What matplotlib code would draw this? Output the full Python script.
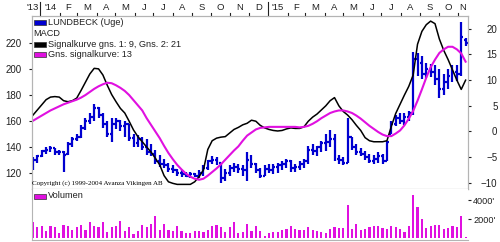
import numpy as np
import pandas as pd
import matplotlib
matplotlib.use('Agg')
import matplotlib.pyplot as plt
from matplotlib import transforms
from matplotlib.patches import Rectangle

# weekly data, first week ending 2013-12-20
start = pd.Timestamp('2013-12-20')
n_weeks = 100

price_open = [124, 130, 133, 137, 138, 139, 136, 136, 135, 142,
              146, 148, 155, 160, 163, 170, 165, 158, 150, 158,
              160, 156, 158, 147, 143, 146, 140, 136, 135, 129,
              127, 126, 123, 122, 120, 119, 118, 119, 118, 120,
              124, 129, 130, 128, 116, 120, 124, 125, 123, 122,
              130, 127, 122, 118, 123, 122, 125, 126, 127, 129,
              124, 125, 127, 129, 138, 137, 140, 143, 144, 146,
              131, 130, 128, 148, 140, 136, 135, 132, 129, 131,
              133, 129, 150, 158, 162, 160, 163, 166, 208, 205,
              196, 200, 198, 192, 185, 190, 195, 198, 196, 222]
price_high = [132, 134, 138, 140, 141, 139, 138, 137, 144, 148,
              150, 157, 162, 166, 173, 171, 166, 160, 162, 162,
              161, 160, 158, 150, 149, 148, 146, 142, 138, 134,
              131, 128, 126, 123, 122, 121, 121, 120, 122, 126,
              130, 133, 132, 128, 123, 126, 128, 127, 126, 136,
              134, 128, 124, 126, 127, 127, 128, 129, 131, 130,
              127, 129, 131, 141, 142, 141, 145, 150, 153, 150,
              134, 132, 162, 148, 142, 139, 137, 135, 134, 136,
              135, 145, 160, 165, 166, 166, 168, 213, 212, 210,
              205, 204, 203, 200, 196, 200, 203, 203, 236, 224]
price_low = [122, 128, 132, 135, 136, 134, 134, 121, 134, 140,
             145, 147, 153, 158, 160, 162, 155, 148, 144, 154,
             152, 148, 145, 140, 140, 138, 134, 133, 127, 125,
             124, 121, 120, 118, 117, 117, 116, 117, 116, 118,
             122, 127, 126, 112, 114, 118, 121, 120, 118, 114,
             124, 120, 116, 118, 120, 119, 120, 122, 124, 121,
             121, 122, 124, 127, 134, 133, 136, 137, 140, 129,
             127, 126, 128, 138, 134, 133, 130, 128, 127, 128,
             127, 129, 150, 156, 158, 157, 160, 165, 195, 192,
             193, 194, 188, 178, 180, 185, 190, 191, 195, 218]
price_close = [130, 133, 137, 138, 139, 136, 136, 134, 142, 146,
               148, 155, 160, 163, 170, 165, 158, 150, 158, 160,
               156, 158, 147, 143, 146, 140, 136, 135, 129, 127,
               126, 123, 122, 120, 119, 118, 119, 118, 120, 124,
               129, 130, 128, 116, 120, 124, 125, 123, 122, 130,
               127, 122, 118, 123, 122, 125, 126, 127, 129, 124,
               125, 127, 129, 138, 137, 140, 143, 144, 146, 131,
               130, 128, 148, 140, 136, 135, 132, 129, 131, 133,
               129, 144, 158, 162, 160, 163, 166, 208, 205, 196,
               200, 198, 192, 185, 190, 195, 198, 196, 225, 220]

macd = [3.2, 4.2, 5.2, 6.2, 6.7, 6.8, 6.7, 6.0, 5.8, 6.0,
        6.5, 8.0, 9.6, 11.2, 12.3, 12.2, 11.0, 9.0, 7.2, 5.8,
        4.5, 3.6, 2.0, 0.3, -1.0, -2.0, -3.0, -4.0, -5.2, -6.5,
        -8.6, -9.8, -10.1, -10.3, -10.3, -10.3, -10.3, -9.8, -8.8, -7.5,
        -3.5, -1.8, -1.3, -1.1, -1.0, -0.3, 0.4, 0.8, 1.3, 1.6,
        2.2, 2.0, 1.2, 0.7, 0.4, 0.2, 0.1, 0.2, 0.5, 0.7,
        0.6, 0.6, 0.9, 2.0, 2.8, 3.4, 4.2, 5.0, 6.0, 6.6,
        5.0, 3.9, 3.2, 2.3, 1.2, 0.2, -1.2, -1.8, -2.0, -2.0,
        -2.0, -1.8, 1.0, 3.5, 5.3, 7.1, 8.8, 11.0, 17.0, 19.5,
        20.8, 21.5, 21.0, 18.0, 15.8, 14.0, 12.0, 10.0, 8.2, 10.0]
signal = [2.1, 2.6, 3.1, 3.6, 4.1, 4.5, 4.9, 5.3, 5.6, 5.9,
          6.2, 6.6, 7.1, 7.7, 8.3, 8.8, 9.2, 9.5, 9.4, 9.0,
          8.5, 7.9, 7.1, 6.1, 5.1, 4.1, 2.6, 1.3, 0.0, -1.3,
          -2.8, -4.2, -5.4, -6.5, -7.4, -8.2, -8.8, -9.2, -9.4, -9.2,
          -8.6, -7.9, -7.2, -6.4, -5.5, -4.6, -3.7, -2.9, -1.8, -0.8,
          -0.2, 0.4, 0.7, 0.8, 0.9, 0.9, 0.9, 0.9, 0.9, 0.9,
          0.9, 0.8, 0.9, 1.1, 1.5, 2.0, 2.6, 3.1, 3.6, 3.9,
          4.1, 4.1, 3.9, 3.6, 3.1, 2.5, 1.8, 1.1, 0.5, -0.1,
          -0.6, -0.9, -0.9, -0.4, 0.2, 1.2, 2.5, 4.0, 6.0, 8.2,
          10.5, 12.5, 14.0, 15.3, 16.0, 16.5, 16.5, 16.0, 15.2, 13.6]

volume = [1720, 1190, 1300, 700, 1300, 1190, 500, 1370, 1300, 800,
          1190, 1370, 800, 1650, 1300, 1190, 1650, 600, 1190, 1300,
          1790, 700, 1190, 400, 700, 1370, 1190, 1440, 2350, 800,
          1440, 800, 700, 1300, 700, 500, 500, 700, 700, 650,
          800, 1300, 1370, 1190, 600, 1190, 1650, 500, 650, 1440,
          700, 1300, 700, 250, 550, 600, 600, 880, 950, 1230,
          950, 880, 880, 1160, 880, 700, 600, 530, 950, 1160,
          1050, 1050, 3500, 950, 1510, 880, 950, 1160, 1230, 1230,
          1050, 950, 1230, 1160, 950, 600, 1230, 4500, 3300, 2030,
          1050, 1300, 1400, 1400, 950, 1050, 1230, 1160, 2350, 100]

price_ticks = [120, 140, 160, 180, 200, 220]
macd_ticks = [-10, -5, 0, 5, 10, 15, 20]
vol_ticks = [2000, 4000]
month_letters = ['J', 'F', 'M', 'A', 'M', 'J', 'J', 'A', 'S', 'O', 'N', 'D']

BLUE = '#0000d0'
MAG = '#e010e0'
GRID = '#b4b4b4'
TXT = '#202020'
FONT = 'Liberation Sans'

x = np.arange(n_weeks)
xl, xr = -0.23, 99.55

fig = plt.figure(figsize=(5, 2.42), dpi=100)
ax = fig.add_axes([0.064, 0.219, 0.872, 0.715])
ax2 = ax.twinx()
vax = fig.add_axes([0.064, 0.008, 0.872, 0.211])

# price bars (high-low with open/close ticks)
ax.vlines(x, price_low, price_high, color=BLUE, lw=1.6)
ax.hlines(price_open, x - 0.45, x, color=BLUE, lw=1.6)
ax.hlines(price_close, x, x + 0.45, color=BLUE, lw=1.6)
ax.set_xlim(xl, xr)
ax.set_ylim(107.7, 240.8)
ax.set_yticks(price_ticks)
ax.set_xticks([])

# MACD lines
ax2.plot(x, macd, color='black', lw=1.1)
ax2.plot(x, signal, color=MAG, lw=1.5)
ax2.set_ylim(-11.2, 22.5)
ax2.set_yticks(macd_ticks)

for a in (ax, ax2):
    for s in a.spines.values():
        s.set_color(GRID)
        s.set_linewidth(0.8)
ax.tick_params(axis='y', length=2.2, width=0.8, color=TXT, pad=5.5,
               labelsize=7, labelcolor=TXT)
ax2.tick_params(axis='y', length=2.2, width=0.8, color=TXT, pad=19,
                labelsize=7, labelcolor=TXT)
for t in ax.get_yticklabels() + ax2.get_yticklabels():
    t.set_fontfamily(FONT)
for t in ax2.get_yticklabels():
    t.set_horizontalalignment('right')

# volume
vax.bar(x, volume, width=0.5, color=MAG, linewidth=0)
vax.set_xlim(xl, xr)
vax.set_ylim(-210, 5160)
vax.set_xticks([])
vax.yaxis.tick_right()
vax.set_yticks(vol_ticks)
vax.set_yticklabels([f"{v}'" for v in vol_ticks])
vax.tick_params(axis='y', length=2.2, width=0.8, color=TXT, pad=1.5,
                labelsize=6.6, labelcolor=TXT)
for t in vax.get_yticklabels():
    t.set_fontfamily(FONT)
vax.spines['top'].set_visible(False)
vax.spines['right'].set_visible(False)
for s in ('left', 'bottom'):
    vax.spines[s].set_color(GRID)
    vax.spines[s].set_linewidth(0.8)

# month axis at the top
def week_pos(d):
    return (pd.Timestamp(d) - start).days / 7.0

trans = transforms.blended_transform_factory(ax.transData, fig.transFigure)
months = pd.date_range('2014-01-01', '2015-12-01', freq='MS')
for i in range(len(months) - 1):
    m0 = week_pos(months[i])
    m1 = week_pos(months[i + 1])
    if m0 > xr:
        break
    if months[i].month == 1:
        lab = "'" + str(months[i].year)[2:]
        ax.plot([m0, m0], [1 - 2 / 242, 1 - 16 / 242], color=TXT, lw=0.8,
                transform=trans, clip_on=False)
    else:
        lab = month_letters[months[i].month - 1]
        ax.plot([m0, m0], [1 - 13 / 242, 1 - 16 / 242], color=TXT, lw=0.8,
                transform=trans, clip_on=False)
    c = (max(m0, xl) + min(m1, xr)) / 2
    ax.text(c, 1 - 7 / 242, lab, transform=trans, ha='center', va='center',
            fontsize=6.8, color=TXT, family=FONT)
ax.text(week_pos('2014-01-01') - 0.4, 1 - 7 / 242, "'13", transform=trans,
        ha='right', va='center', fontsize=6.8, color=TXT, family=FONT)

# legend (drawn in figure pixels)
def fx(px):
    return px / 500

def fy(py):
    return 1 - py / 242

def legend_row(py, label, color=None):
    if color is not None:
        fig.add_artist(Rectangle((fx(33.5), fy(py + 2.5)), fx(12), 5 / 242,
                                 transform=fig.transFigure, facecolor=color,
                                 edgecolor='#303030', linewidth=0.5))
        tx = 48
    else:
        tx = 33.5
    fig.text(fx(tx), fy(py), label, ha='left', va='center', fontsize=6.6,
             color=TXT, family=FONT)

legend_row(22.5, 'LUNDBECK (Uge)', BLUE)
legend_row(33.5, 'MACD')
legend_row(44.5, 'Signalkurve gns. 1: 9, Gns. 2: 21', 'black')
legend_row(54.5, 'Gns. signalkurve: 13', MAG)
legend_row(196, 'Volumen', MAG)

fig.text(fx(32.5), fy(183), 'Copyright (c) 1999-2004 Avanza Vikingen AB',
         ha='left', va='center', fontsize=5.0, color='black',
         family='Liberation Serif')

fig.savefig('out.png', dpi=100)
